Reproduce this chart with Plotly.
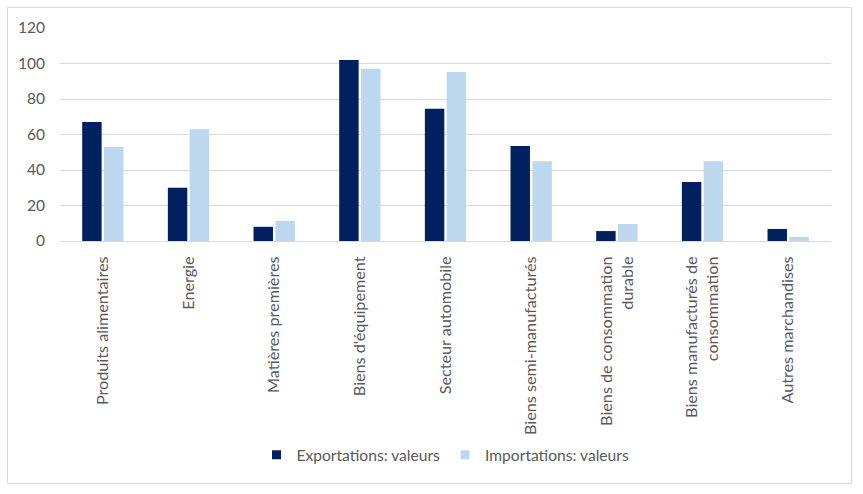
import plotly.graph_objects as go

categories = [
    "Produits alimentaires",
    "Energie",
    "Matières premières",
    "Biens d'équipement",
    "Secteur automobile",
    "Biens semi-manufacturés",
    "Biens de consommation<br>durable",
    "Biens manufacturés de<br>consommation",
    "Autres marchandises",
]
exportations = [67, 30, 8, 102, 74.5, 53.5, 5.6, 33.3, 6.8]
importations = [53, 63, 11.3, 97, 95.2, 45, 9.6, 45, 2.3]
series_names = ["Exportations: valeurs", "Importations: valeurs"]
series_colors = ["#002060", "#BDD7EE"]
y_ticks = [0, 20, 40, 60, 80, 100, 120]

W, H = 863, 494
L, R, T, B = 60, 32, 28, 253
pw, ph = W - L - R, H - T - B

def px_x(x):
    return (x - L) / pw

def px_y(y):
    return (H - B - y) / ph

font_family = "Lato, Open Sans, sans-serif"
grey = "#595959"

fig = go.Figure()
for vals, name, col in zip([exportations, importations], series_names, series_colors):
    fig.add_trace(go.Bar(x=categories, y=vals, name=name, showlegend=False,
                         marker=dict(color=col, line=dict(width=0))))
# legend-only entries with small square swatches
for name, col in zip(series_names, series_colors):
    fig.add_trace(go.Scatter(x=[None], y=[None], mode="markers", name=name,
                             marker=dict(symbol="square", size=9, color=col),
                             showlegend=True))

fig.update_layout(
    width=W, height=H,
    margin=dict(l=L, r=R, t=T, b=B, pad=0),
    paper_bgcolor="white", plot_bgcolor="white",
    barmode="group", bargap=0.49, bargroupgap=0.11,
    font=dict(family=font_family, size=15, color=grey),
    showlegend=True,
    legend=dict(orientation="h", x=0.5, xanchor="center", y=px_y(455), yanchor="middle",
                font=dict(size=15.6, color=grey), itemwidth=30, traceorder="normal",
                tracegroupgap=0, itemsizing="trace"),
    xaxis=dict(tickangle=-90, showgrid=False, showline=True, linecolor="#D9D9D9",
               linewidth=1, ticks="", tickfont=dict(size=16.2, color=grey), fixedrange=True,
               ticklabelstandoff=8),
    yaxis=dict(range=[0, 120], tickvals=y_ticks, showgrid=True, gridcolor="#D9D9D9",
               gridwidth=1, zeroline=False, showline=False, ticks="",
               tickfont=dict(size=15.5, color=grey), ticklabelstandoff=14),
    shapes=[dict(type="rect", xref="paper", yref="paper",
                 x0=px_x(7.5), x1=px_x(851.5), y0=px_y(483.5), y1=px_y(7.5),
                 line=dict(color="#D9D9D9", width=1), fillcolor="rgba(0,0,0,0)", layer="below")],
)

fig.write_html("out.html")
